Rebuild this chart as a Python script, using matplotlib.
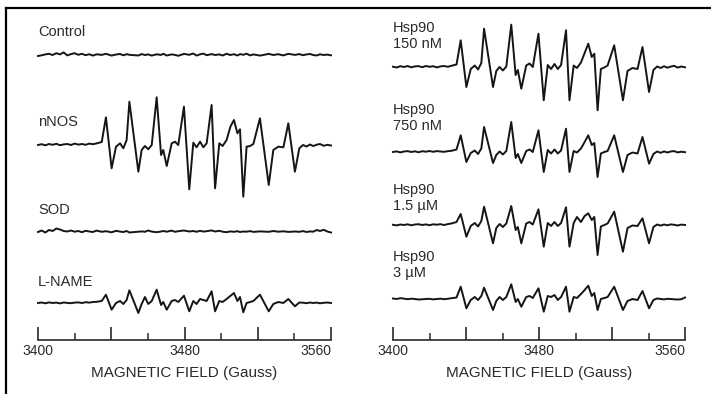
import matplotlib
matplotlib.use("Agg")
import matplotlib.pyplot as plt
from matplotlib.lines import Line2D

plt.rcParams['font.family'] = ['Liberation Sans', 'DejaVu Sans']

# field positions (Gauss) of the vertices
field = [3400.0, 3402.0, 3404.0, 3406.0, 3408.0, 3410.0, 3412.0, 3414.0, 3416.0, 3418.0,
         3420.0, 3422.0, 3424.0, 3426.0, 3428.0, 3430.0, 3432.0, 3434.8, 3437.1, 3440.2,
         3442.6, 3444.8, 3446.6, 3448.4, 3449.9, 3454.8, 3456.6, 3458.4, 3460.2, 3462.1,
         3464.8, 3467.2, 3468.4, 3470.3, 3473.0, 3474.8, 3476.6, 3479.7, 3482.6, 3484.8,
         3486.6, 3488.5, 3490.3, 3492.1, 3494.8, 3496.7, 3499.0, 3500.8, 3503.0, 3505.0,
         3507.0, 3508.9, 3510.3, 3512.1, 3513.9, 3515.8, 3517.6, 3521.2, 3526.0, 3528.5,
         3531.2, 3534.0, 3536.7, 3540.3, 3542.7, 3544.7, 3546.7, 3548.5, 3550.3, 3552.2,
         3554.0, 3556.0, 3558.0, 3560.0]

# signal (arbitrary units) of each spectrum at those fields
control = [-1.0, -0.3, 0.6, 1.2, 0.0, 1.8, 0.6, 2.6, -0.4, 0.9,
           1.8, 0.2, 1.2, -0.2, 0.8, -0.6, 0.7, 0.1, 1.2, -0.6,
           0.5, 1.0, -0.3, 0.8, 0.2, -0.5, 0.9, 0.0, 0.6, -0.6,
           0.7, 0.1, 1.2, -0.5, 0.6, 0.1, -0.8, 1.1, 0.2, 1.5,
           -0.6, 0.7, 1.4, -0.2, 0.9, 0.0, 0.6, -0.5, 1.2, 0.0,
           0.8, -0.5, 0.9, 0.2, 1.3, -0.4, 0.6, -0.6, 1.1, 0.0,
           0.8, -0.4, 1.2, 0.1, 0.9, -0.2, 0.6, 1.0, 0.0, -0.5,
           0.7, 0.0, 0.4, -0.3]

nnos = [0.0, 0.8, -0.3, 1.0, 0.2, 1.2, -0.2, 0.6, 1.0, 0.0,
        1.4, 0.4, 1.0, 0.2, 1.4, 0.8, 1.6, 3.0, 27.7, -23.3,
        -1.7, 1.7, -3.3, 5.0, 43.3, -26.7, -5.0, -1.0, -4.3, 0.0,
        47.7, -10.0, -5.0, -21.0, 1.7, 3.3, 0.0, 38.3, -44.3, 2.3,
        -2.3, 3.3, -2.3, 1.7, 40.0, -43.3, 1.7, -1.0, 5.0, 18.0,
        25.0, 11.7, 15.7, -51.7, -1.7, -1.0, 1.0, 26.7, -40.0, -5.0,
        -1.7, -2.3, 21.7, -26.7, -3.3, 0.0, -1.5, 0.5, -1.0, 0.3,
        1.0, -0.8, 0.2, -0.5]

sod = [0.0, 1.5, -0.5, 2.0, 1.0, 3.5, 2.5, 1.0, 0.5, 1.5,
       0.3, 1.0, -0.2, 1.2, 0.5, 0.0, 1.4, 0.2, 0.8, -0.3,
       1.2, 0.4, 0.0, 1.0, -0.5, 0.3, 0.6, 0.2, 1.5, 0.4,
       -0.2, 0.5, 1.0, 0.3, 1.4, 0.2, 0.8, 1.5, 0.5, 1.0,
       0.2, 1.2, 0.4, 0.8, 1.6, 0.5, 1.2, 0.3, -0.2, 0.6,
       0.2, 0.8, 0.0, 0.5, 0.3, 0.9, 0.1, 0.6, 0.2, 1.0,
       0.3, 0.7, 0.1, 0.5, 0.2, 0.9, 0.0, 0.6, 0.3, 2.0,
       1.0, 2.2, 0.5, -0.5]

lname = [0.0, 0.5, -0.3, 0.6, 0.0, 0.4, -0.4, 0.5, 0.1, -0.2,
         0.4, 0.6, 0.0, 0.8, 0.4, 1.0, 1.2, 2.0, 8.3, -6.7,
         0.0, 2.0, -1.0, 3.0, 12.7, -10.0, -1.0, 6.0, -1.0, 2.0,
         13.3, -2.0, 1.0, -6.7, 2.0, 3.0, 1.0, 7.3, -8.3, 2.0,
         -1.0, 4.0, 3.0, 2.0, 11.7, -8.3, 2.0, 1.0, 4.0, 7.0,
         10.0, 2.0, 6.0, -9.3, 0.0, 1.0, 2.0, 8.3, -8.3, -1.0,
         1.0, 0.0, 4.0, -3.3, 0.5, 0.3, -0.2, 0.5, 0.0, 0.4,
         -0.3, 0.2, 0.5, 0.0]

hsp150 = [0.3, -0.5, 0.8, 0.0, 1.0, -0.3, 0.6, 0.9, -0.2, 1.0,
          0.2, 0.8, -0.4, 0.6, 1.0, 0.2, 1.2, 2.5, 26.7, -20.0,
          -2.0, 1.5, -2.5, 4.0, 38.3, -20.0, -4.0, 0.0, -3.5, 0.5,
          42.3, -8.0, -3.0, -21.7, 1.5, 3.5, 0.0, 33.3, -33.3, 2.0,
          -2.0, 3.0, -2.0, 2.0, 36.7, -33.3, 1.5, -1.0, 4.5, 14.0,
          23.3, 10.0, 13.3, -43.3, -2.0, -0.5, 1.5, 21.7, -33.3, -4.0,
          -1.0, -2.0, 20.0, -25.0, -3.0, 0.5, -1.0, 0.8, -0.7, 0.4,
          1.2, -0.6, 0.5, -0.3]

hsp750 = [0.0, 0.6, -0.4, 0.5, 0.9, 0.0, 0.7, -0.3, 0.8, 0.3,
          1.0, 0.2, 0.9, 0.5, 0.2, 0.8, 1.2, 2.5, 16.7, -10.0,
          -1.0, 1.5, -2.0, 3.5, 25.0, -11.0, -3.0, 0.5, -2.5, 1.0,
          30.0, -6.0, -2.0, -11.0, 1.0, 2.5, 0.0, 21.7, -20.0, 2.0,
          -1.5, 2.5, -1.5, 1.5, 23.3, -20.0, 1.0, -0.5, 3.5, 10.0,
          16.7, 7.0, 9.0, -25.0, -1.5, 0.0, 1.0, 16.7, -20.0, -3.0,
          -0.5, -1.5, 15.0, -11.7, -2.0, 0.5, -0.8, 0.6, -0.5, 0.5,
          0.9, -0.4, 0.3, -0.2]

hsp1500 = [0.2, -0.4, 0.5, 0.0, 0.7, -0.3, 0.5, 0.8, 0.0, 0.6,
           -0.2, 0.7, 0.3, 0.8, 0.0, 0.9, 1.5, 3.0, 11.0, -11.7,
           -1.0, 2.0, -1.5, 4.0, 18.3, -18.3, -3.0, 1.0, -2.0, 1.5,
           19.0, -5.0, -2.0, -18.3, 1.5, 3.0, 0.5, 15.7, -21.7, 2.0,
           -1.0, 3.0, -1.0, 2.0, 17.7, -21.7, 2.0, 8.0, 3.0, 9.0,
           11.7, 5.0, 8.0, -30.0, -1.5, 0.0, 1.5, 13.3, -26.7, -3.0,
           -0.5, -1.0, 6.7, -18.3, -2.0, 0.5, -0.6, 0.5, -0.3, 0.6,
           0.2, -0.5, 0.4, 0.0]

hsp3000 = [0.5, 0.0, 0.8, 0.4, -0.2, 0.3, 0.0, -0.5, -0.3, 0.0,
           0.2, -0.4, 0.0, 0.3, -0.2, 0.2, 0.8, 1.5, 12.3, -9.3,
           -1.0, 2.0, -1.0, 3.0, 11.3, -11.0, -2.0, 2.0, -1.0, 2.0,
           14.7, -3.0, 0.0, -7.7, 2.0, 3.0, 1.0, 10.7, -12.7, 3.0,
           2.0, 4.0, -1.0, 2.0, 12.3, -12.7, 2.0, 1.0, 5.0, 9.0,
           13.3, 3.0, 6.0, -11.0, 0.0, 1.0, 2.0, 12.3, -11.0, -2.0,
           0.0, -1.0, 8.0, -9.3, -1.0, 0.5, 0.0, -0.4, 0.2, 0.0,
           -0.3, -0.5, -0.2, 1.5]

left_names = ["Control", "nNOS", "SOD", "L-NAME"]
left_traces = [control, nnos, sod, lname]
right_names = ["Hsp90\n150 nM", "Hsp90\n750 nM", "Hsp90\n1.5 µM", "Hsp90\n3 µM"]
right_traces = [hsp150, hsp750, hsp1500, hsp3000]

major_ticks = [3400, 3440, 3480, 3520, 3560]
major_labels = ["3400", "", "3480", "", "3560"]
minor_ticks = [3420, 3460, 3500, 3540]

INK = "#151515"
TXT = "#2a2a2a"

fig = plt.figure(figsize=(7.11, 3.94), dpi=100)
W, H = 711.0, 394.0

# outer frame (left and top edges of the box)
fig.add_artist(Line2D([6 / W, 6 / W], [0, 1 - 8 / H], transform=fig.transFigure,
                      color="black", lw=1.6))
fig.add_artist(Line2D([6 / W, 1], [1 - 8 / H, 1 - 8 / H], transform=fig.transFigure,
                      color="black", lw=1.6))


def panel(x0, x1, names, traces, base, label_y):
    ax = fig.add_axes([x0 / W, 54 / H, (x1 - x0) / W, 330 / H])
    ax.set_xlim(3400, 3560)
    ax.set_ylim(0, 330)
    for s in ["left", "right", "top"]:
        ax.spines[s].set_visible(False)
    ax.spines["bottom"].set_color("#2a2a2a")
    ax.spines["bottom"].set_linewidth(1.2)
    ax.set_yticks([])
    ax.set_xticks(major_ticks)
    ax.set_xticklabels(major_labels)
    ax.set_xticks(minor_ticks, minor=True)
    ax.tick_params(axis="x", which="major", direction="in", length=9.5, width=1.2,
                   color="#2a2a2a", labelsize=10, labelcolor=TXT, pad=3)
    ax.tick_params(axis="x", which="minor", direction="in", length=4.8, width=1.1,
                   color="#2a2a2a")
    labs = ax.get_xticklabels()
    labs[-1].set_horizontalalignment("right")
    ax.set_xlabel("MAGNETIC FIELD (Gauss)", fontsize=11, color=TXT, labelpad=6)
    ax.patch.set_visible(False)
    for name, tr, b, ly in zip(names, traces, base, label_y):
        ax.plot(field, [b + v for v in tr], color=INK, lw=1.4, clip_on=False,
                solid_joinstyle="round")
        ax.text(3400, ly, name, ha="left", va="center", fontsize=10.5, color=TXT,
                linespacing=1.1)
    return ax


# baselines and label centres, as heights above the field axis (pixels)
panel(38, 331, left_names, left_traces, [285, 195, 108, 37], [308, 218, 130, 58])
panel(393, 685, right_names, right_traces, [273, 188, 115, 41], [304, 222, 142, 75])

fig.savefig("out.png", dpi=100)
